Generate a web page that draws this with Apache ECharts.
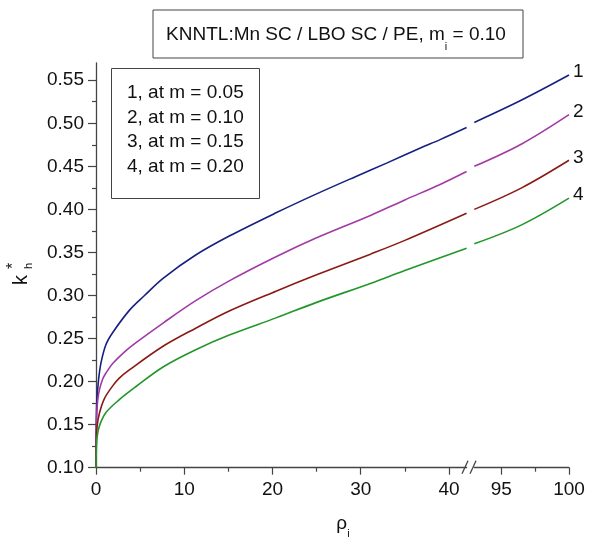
<!DOCTYPE html>
<html>
<head>
<meta charset="utf-8">
<title>k*h vs rho_i</title>
<script src="https://cdn.jsdelivr.net/npm/echarts@6/dist/echarts.min.js"></script>
<style>
  html, body { margin: 0; padding: 0; background: #fff; }
  #chart { width: 591px; height: 544px; }
</style>
</head>
<body>
<div id="chart"></div>
<script>
// ---- data ----------------------------------------------------------------
const curveNames = ['1', '2', '3', '4'];
const mValues = ['0.05', '0.10', '0.15', '0.20'];
const curveColors = ['#16207f', '#a23aa6', '#8a1a14', '#22962a'];

// k*h against rho_i, low-rho part of the axis (0 .. 42)
const curve1Left = [[0,0.100],[0.02,0.140],[0.05,0.163],[0.1,0.178],[0.2,0.192],[0.3,0.203],[0.57,0.222],[1.13,0.243],[1.9,0.257],[3.8,0.283],[5.5,0.300],[7.6,0.320],[11.3,0.347],[15.1,0.369],[20.4,0.396],[25,0.418],[29.4,0.438],[33,0.454],[36.7,0.471],[39,0.481],[42,0.495]];
const curve2Left = [[0,0.100],[0.02,0.130],[0.05,0.150],[0.1,0.165],[0.19,0.178],[0.4,0.191],[0.76,0.203],[1.13,0.210],[1.89,0.221],[3.4,0.236],[4.5,0.245],[7.6,0.268],[11.3,0.294],[15.1,0.317],[20.4,0.345],[25,0.367],[31.1,0.393],[35,0.411],[39,0.429],[42,0.444]];
const curve3Left = [[0,0.100],[0.02,0.120],[0.05,0.134],[0.11,0.147],[0.38,0.163],[0.94,0.180],[1.89,0.195],[2.64,0.204],[3.78,0.2135],[7.6,0.241],[11.3,0.262],[15.1,0.282],[20.4,0.305],[25,0.324],[31.1,0.348],[35,0.364],[42,0.3955]];
const curve4Left = [[0,0.100],[0.02,0.115],[0.05,0.125],[0.1,0.134],[0.37,0.148],[1.13,0.164],[2.64,0.179],[4.5,0.194],[7.6,0.217],[11.3,0.237],[15.1,0.254],[20.4,0.274],[25,0.292],[31.1,0.314],[35,0.329],[42,0.355]];

// high-rho part of the axis (93 .. 100)
const curve1Right = [[93,0.501],[96.5,0.527],[100,0.556]];
const curve2Right = [[93,0.450],[96.5,0.476],[100,0.510]];
const curve3Right = [[93,0.400],[96.5,0.425],[100,0.457]];
const curve4Right = [[93,0.360],[96.5,0.382],[100,0.413]];

// axis ticks
const rhoTicksLeft = [0, 10, 20, 30, 40];
const rhoMinorLeft = [5, 15, 25, 35];
const rhoTicksRight = [95, 100];
const rhoMinorRight = [97.5];
const kTicks = [0.10, 0.15, 0.20, 0.25, 0.30, 0.35, 0.40, 0.45, 0.50, 0.55];
const kMinor = [0.125, 0.175, 0.225, 0.275, 0.325, 0.375, 0.425, 0.475, 0.525];

const leftCurves = [curve1Left, curve2Left, curve3Left, curve4Left];
const rightCurves = [curve1Right, curve2Right, curve3Right, curve4Right];

// ---- layout ----------------------------------------------------------------
const FONT = 'Liberation Sans, Arial, sans-serif';
const FS = 19;
const AXIS_COLOR = '#444';
const TOP = 63, BOTTOM = 76.3;
const LEFT1 = 96, WIDTH1 = 370.6;
const LEFT2 = 474.3, WIDTH2 = 94.7;
const AXIS_Y = 544 - BOTTOM;

const chart = echarts.init(document.getElementById('chart'), null, { renderer: 'canvas' });

function tickStyle(len, values) {
  return { show: true, length: len, customValues: values, lineStyle: { color: AXIS_COLOR, width: 1.2 } };
}
function labelStyle(margin, values, fmt) {
  const s = { color: '#111', fontSize: FS, fontFamily: FONT, margin: margin, customValues: values };
  if (fmt) s.formatter = fmt;
  return s;
}
function majorAxis(extra) {
  return Object.assign({
    type: 'value',
    axisLine: { show: true, lineStyle: { color: AXIS_COLOR, width: 1.3 } },
    splitLine: { show: false }
  }, extra);
}
function minorAxis(extra) {
  return Object.assign({
    type: 'value',
    axisLine: { show: false },
    axisLabel: { show: false },
    splitLine: { show: false }
  }, extra);
}

const series = [];
leftCurves.forEach((d, i) => {
  series.push({
    type: 'line', xAxisIndex: 0, yAxisIndex: 0, data: d,
    showSymbol: false, smooth: 0.35, clip: false,
    lineStyle: { color: curveColors[i], width: 1.6 }, z: 3 + i
  });
});
rightCurves.forEach((d, i) => {
  series.push({
    type: 'line', xAxisIndex: 2, yAxisIndex: 2, data: d,
    showSymbol: false, smooth: 0.35, clip: false,
    lineStyle: { color: curveColors[i], width: 1.6 }, z: 3 + i,
    endLabel: {
      show: true, formatter: curveNames[i], color: '#111',
      fontSize: FS, fontFamily: FONT, distance: 4, offset: [0, -3]
    }
  });
});

const legendLines = curveNames.map((n, i) => ({
  type: 'text', left: 127, top: 83.5 + i * 24.5, z: 11,
  style: { text: n + ', at m = ' + mValues[i], fill: '#111', font: FS + 'px ' + FONT }
}));

chart.setOption({
  animation: false,
  backgroundColor: '#fff',
  grid: [
    { left: LEFT1, top: TOP, width: WIDTH1, bottom: BOTTOM },
    { left: LEFT2, top: TOP, width: WIDTH2, bottom: BOTTOM }
  ],
  xAxis: [
    majorAxis({ gridIndex: 0, position: 'bottom', min: 0, max: 42,
      axisTick: tickStyle(7, rhoTicksLeft), axisLabel: labelStyle(13, rhoTicksLeft) }),
    minorAxis({ gridIndex: 0, position: 'bottom', min: 0, max: 42,
      axisTick: tickStyle(4, rhoMinorLeft) }),
    majorAxis({ gridIndex: 1, position: 'bottom', min: 93, max: 100,
      axisTick: tickStyle(7, rhoTicksRight), axisLabel: labelStyle(13, rhoTicksRight) }),
    minorAxis({ gridIndex: 1, position: 'bottom', min: 93, max: 100,
      axisTick: tickStyle(4, rhoMinorRight) })
  ],
  yAxis: [
    majorAxis({ gridIndex: 0, position: 'left', min: 0.10, max: 0.57,
      axisTick: tickStyle(8, kTicks), axisLabel: labelStyle(12, kTicks, v => v.toFixed(2)) }),
    minorAxis({ gridIndex: 0, position: 'left', min: 0.10, max: 0.57,
      axisTick: tickStyle(4, kMinor) }),
    { type: 'value', gridIndex: 1, min: 0.10, max: 0.57, show: false }
  ],
  series: series,
  graphic: [
    // heading box
    { type: 'rect', shape: { x: 153, y: 10, width: 370, height: 48 },
      style: { fill: '#fff', stroke: AXIS_COLOR, lineWidth: 1 }, z: 10 },
    { type: 'text', x: 336, y: 35, z: 11,
      style: {
        text: 'KNNTL:Mn SC / LBO SC / PE, m{sub|i} = 0.10',
        align: 'center', verticalAlign: 'middle',
        fill: '#111', font: FS + 'px ' + FONT, lineHeight: 34,
        rich: { sub: { fontSize: 11, fontFamily: FONT, lineHeight: 10, verticalAlign: 'bottom', fill: '#111' } }
      } },
    // curve key box
    { type: 'rect', shape: { x: 111.5, y: 68.5, width: 148, height: 130 },
      style: { fill: '#fff', stroke: AXIS_COLOR, lineWidth: 1 }, z: 10 },
    ...legendLines,
    // axis break marks
    { type: 'line', shape: { x1: 462, y1: AXIS_Y + 6, x2: 468, y2: AXIS_Y - 7 },
      style: { stroke: AXIS_COLOR, lineWidth: 1.3 }, z: 12 },
    { type: 'line', shape: { x1: 470, y1: AXIS_Y + 6, x2: 476, y2: AXIS_Y - 7 },
      style: { stroke: AXIS_COLOR, lineWidth: 1.3 }, z: 12 },
    // axis titles
    { type: 'text', x: 343, y: 524, z: 11,
      style: {
        text: 'ρ{sub|i}', align: 'center', verticalAlign: 'middle',
        fill: '#111', font: FS + 'px ' + FONT, lineHeight: 30,
        rich: { sub: { fontSize: 11, fontFamily: FONT, lineHeight: 10, verticalAlign: 'bottom', fill: '#111' } }
      } },
    { type: 'group', x: 21, y: 280, rotation: Math.PI / 2, z: 11, children: [
      { type: 'text', x: 0, y: 0, style: { text: 'k', align: 'center', verticalAlign: 'middle', fill: '#111', font: '20px ' + FONT } },
      { type: 'text', x: 11, y: -7, style: { text: '*', align: 'left', verticalAlign: 'middle', fill: '#111', font: '16px ' + FONT } },
      { type: 'text', x: 11, y: 8, style: { text: 'h', align: 'left', verticalAlign: 'middle', fill: '#111', font: '11px ' + FONT } }
    ] }
  ]
});
</script>
</body>
</html>
